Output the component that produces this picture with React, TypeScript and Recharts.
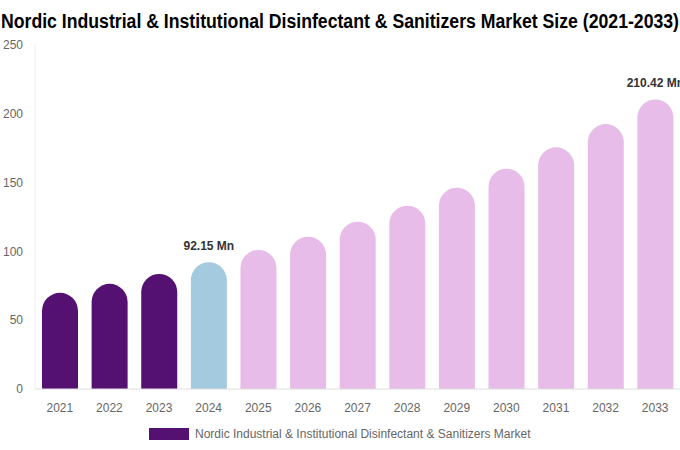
import React from "react";
import { BarChart, Bar, XAxis, YAxis, Cell, LabelList } from "recharts";

const years = ["2021", "2022", "2023", "2024", "2025", "2026", "2027", "2028", "2029", "2030", "2031", "2032", "2033"];
const values = [69.9, 76.4, 83.6, 92.15, 101.1, 110.7, 121.6, 133.2, 146.3, 160.1, 175.6, 192.5, 210.42];
const valueLabels = ["", "", "", "92.15 Mn", "", "", "", "", "", "", "", "", "210.42 Mn"];
const yTicks = [0, 50, 100, 150, 200, 250];

const HISTORIC = "#541172";
const BASE = "#a4cadf";
const FORECAST = "#e8bce8";

const title = "Nordic Industrial & Institutional Disinfectant & Sanitizers Market Size (2021-2033)";
const seriesName = "Nordic Industrial & Institutional Disinfectant & Sanitizers Market";

const data = years.map((y, i) => ({ year: y, value: values[i], label: valueLabels[i] }));

const colorFor = (i: number) => (i < 3 ? HISTORIC : i === 3 ? BASE : FORECAST);

const renderLabel = (props: any) => {
  const { x, y, width, value } = props;
  if (!value) return null;
  return (
    <text
      x={x + width / 2}
      y={y - 12}
      textAnchor="middle"
      fontFamily="'Liberation Sans', Arial, sans-serif"
      fontSize={12}
      fontWeight="bold"
      fill="#333"
    >
      {value}
    </text>
  );
};

export default function App() {
  return (
    <div style={{ position: "absolute", left: 0, top: 0, width: 680, height: 450, fontFamily: "'Liberation Sans', Arial, sans-serif" }}>
      <svg width={680} height={34} style={{ position: "absolute", left: 0, top: 0 }}>
        <text
          x={340}
          y={28}
          textAnchor="middle"
          textLength={678}
          lengthAdjust="spacingAndGlyphs"
          fontFamily="'Liberation Sans', Arial, sans-serif"
          fontWeight="bold"
          fontSize={20}
          fill="#000"
        >
          {title}
        </text>
      </svg>
      <BarChart width={680} height={450} data={data} margin={{ top: 45, right: 0, bottom: 31, left: 0 }}>
        <XAxis
          dataKey="year"
          height={30}
          tickLine={false}
          axisLine={{ stroke: "#dddddd" }}
          tickMargin={8}
          tick={{ fill: "#666", fontSize: 12, fontFamily: "'Liberation Sans', Arial, sans-serif" }}
          interval={0}
        />
        <YAxis
          width={35}
          domain={[0, 250]}
          ticks={yTicks}
          tickLine={false}
          axisLine={{ stroke: "#eeeeee" }}
          tickMargin={6}
          tick={{ fill: "#666", fontSize: 12, fontFamily: "'Liberation Sans', Arial, sans-serif" }}
        />
        <Bar dataKey="value" barSize={36} radius={[18, 18, 0, 0]} isAnimationActive={false}>
          {data.map((d, i) => (
            <Cell key={d.year} fill={colorFor(i)} />
          ))}
          <LabelList dataKey="label" content={renderLabel} />
        </Bar>
      </BarChart>
      <div
        style={{
          position: "absolute",
          left: 149,
          top: 427,
          display: "flex",
          alignItems: "center",
          fontSize: 12,
          color: "#666",
          whiteSpace: "nowrap",
        }}
      >
        <span style={{ display: "inline-block", width: 40, height: 12, background: HISTORIC, marginRight: 6 }} />
        <span>{seriesName}</span>
      </div>
    </div>
  );
}
